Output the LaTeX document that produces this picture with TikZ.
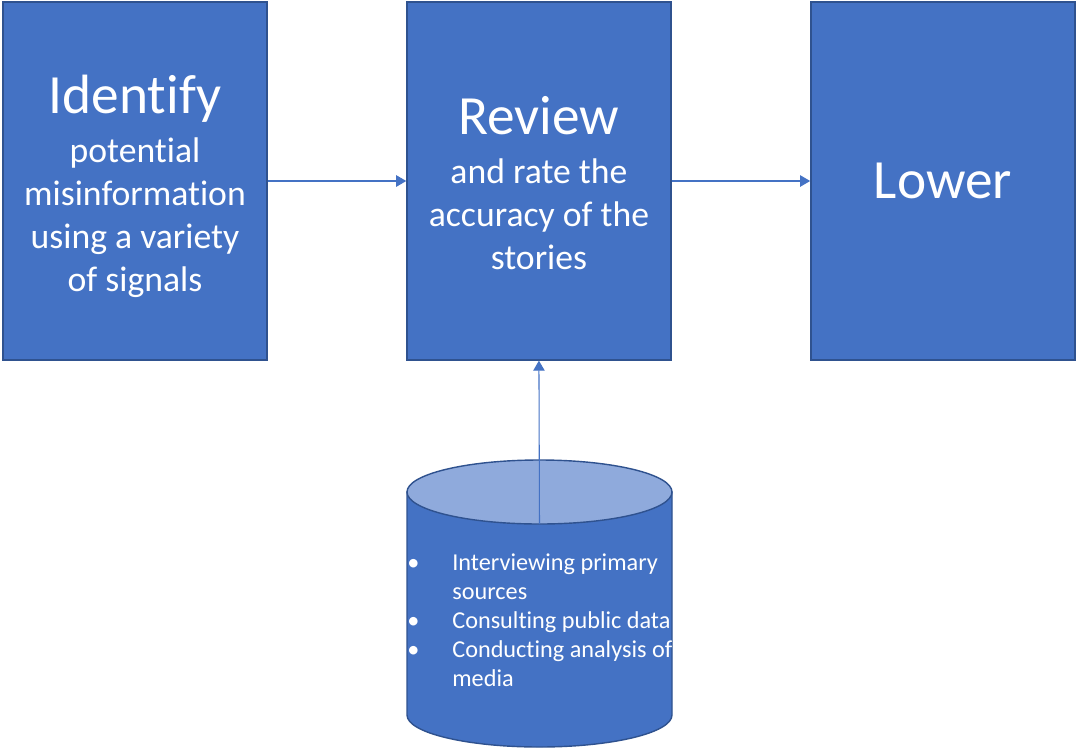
\documentclass[tikz,border=0pt]{standalone}
\usepackage{fontspec}
\setmainfont{Carlito}[Ligatures=NoCommon]
\usetikzlibrary{positioning,arrows.meta}

\definecolor{boxblue}{HTML}{4472C4}
\definecolor{boxedge}{HTML}{2F528F}
\definecolor{dbtopfill}{HTML}{8FAADC}
\newcommand{\stagetitle}[1]{{\fontsize{31.5}{37}\selectfont #1}}

\begin{document}
\begin{tikzpicture}[x=0.02cm,y=0.02cm]
        % Define styles for nodes and edges
        \tikzstyle{stage} = [rectangle, draw=boxedge, line width=0.8pt, fill=boxblue, text=white, align=center, minimum width=5.28cm, minimum height=7.16cm, font=\fontsize{20.3}{24.5}\selectfont]
        \tikzstyle{dbtext} = [text=white, inner sep=0pt, font=\fontsize{13.8}{16.5}\selectfont]
        \tikzstyle{link} = [draw=boxblue, line width=0.6pt, -{Triangle[length=5.7pt,width=6.5pt]}]

        \useasboundingbox (0,0) rectangle (1076,-748);

        % Nodes
        \node[stage] (identify) at (135,-181) {\stagetitle{\rule{0pt}{28pt}Identify}\\[3.5pt] potential\\ misinformation\\ using a variety\\ of signals};
        \node[stage, right of=identify, node distance=8.08cm] (review) {\stagetitle{\rule{0pt}{24.3pt}Review}\\[3.5pt] and rate the\\ accuracy of the\\ stories};
        \node[stage, right of=review, node distance=8.08cm] (lower) {\stagetitle{Lower}};

        % Database cylinder
        \filldraw[fill=boxblue, draw=boxedge, line width=0.8pt] (407,-492) -- (407,-715) arc[start angle=180, end angle=360, x radius=132.5, y radius=32] -- (672,-492) -- cycle;
        \filldraw[fill=dbtopfill, draw=boxedge, line width=0.8pt] (539.5,-492) ellipse[x radius=132.5, y radius=32];
        \coordinate (dbtop) at (539.5,-524);
        \node[dbtext, anchor=north west] (methods) at (407,-550) {\begin{tabular}{@{}p{25.6pt}@{}l@{}}
                \textbullet & Interviewing primary\\
                & sources\\
                \textbullet & Consulting public data\\
                \textbullet & Conducting analysis of\\
                & media
            \end{tabular}};

        % Arrows
        \draw[link] (identify) -- (review);
        \draw[link] (review) -- (lower);
        \draw[link] (dbtop) -- (review.south);
\end{tikzpicture}
\end{document}
